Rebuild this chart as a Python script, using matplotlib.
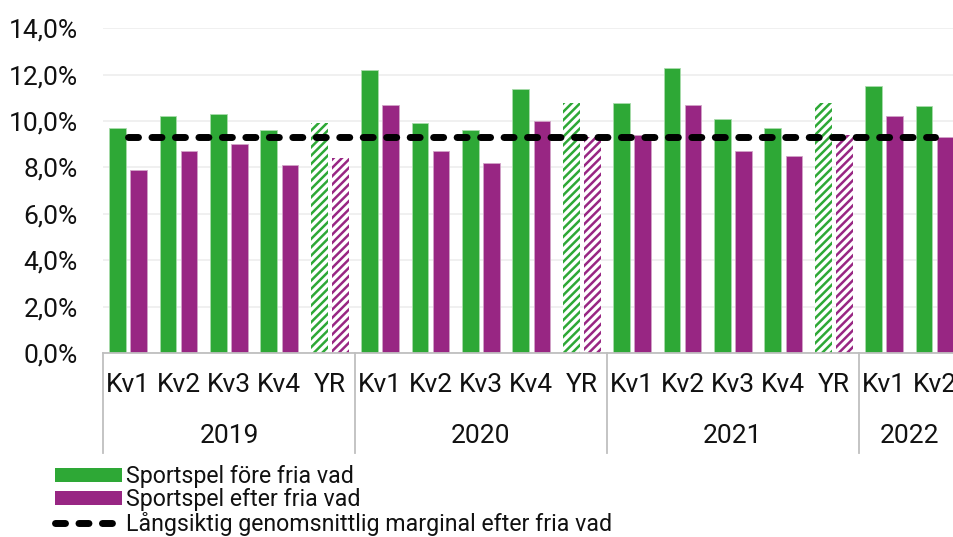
import matplotlib
matplotlib.use("Agg")
import matplotlib.pyplot as plt
import numpy as np
from matplotlib.patches import Patch
from matplotlib.lines import Line2D
from matplotlib.ticker import FuncFormatter

plt.rcParams['font.family'] = ['Roboto', 'DejaVu Sans']
plt.rcParams['hatch.linewidth'] = 1.8

# data (percent)
years = ['2019', '2020', '2021', '2022']
year_sizes = [5, 5, 5, 2]
quarters = ['Kv1', 'Kv2', 'Kv3', 'Kv4', 'YR',
            'Kv1', 'Kv2', 'Kv3', 'Kv4', 'YR',
            'Kv1', 'Kv2', 'Kv3', 'Kv4', 'YR',
            'Kv1', 'Kv2']
fore_fria_vad = [9.7, 10.2, 10.3, 9.6, 9.9,
                 12.2, 9.9, 9.6, 11.4, 10.8,
                 10.8, 12.3, 10.1, 9.7, 10.8,
                 11.5, 10.65]
efter_fria_vad = [7.9, 8.7, 9.0, 8.1, 8.4,
                  10.7, 8.7, 8.2, 10.0, 9.3,
                  9.4, 10.7, 8.7, 8.5, 9.4,
                  10.2, 9.3]
langsiktig_marginal = 9.3

GREEN = '#2ea836'
PURPLE = '#982683'
TEXT = '#111111'

x = np.arange(len(quarters))
width = 0.33
off = 0.21

fig = plt.figure(figsize=(9.54, 5.37), dpi=100)
ax = fig.add_axes([103 / 954, 184 / 537, 851 / 954, 324.7 / 537])

for i in x:
    if quarters[i] == 'YR':
        # full-year bars are drawn hatched
        ax.bar(i - off, fore_fria_vad[i], width, facecolor='white', edgecolor=GREEN,
               hatch='////', linewidth=0, zorder=2)
        ax.bar(i + off, efter_fria_vad[i], width, facecolor='white', edgecolor=PURPLE,
               hatch='////', linewidth=0, zorder=2)
    else:
        ax.bar(i - off, fore_fria_vad[i], width, color=GREEN, edgecolor='#a8dcab',
               linewidth=0.6, zorder=2)
        ax.bar(i + off, efter_fria_vad[i], width, color=PURPLE, edgecolor='#d2a3c8',
               linewidth=0.6, zorder=2)

# long-term average line
ax.plot([x[0], x[-1]], [langsiktig_marginal, langsiktig_marginal], color='black',
        lw=5, dashes=(1.44, 1.94), dash_capstyle='round', zorder=3)

ax.set_ylim(0, 14)
ax.set_xlim(-0.5, -0.5 + 851 / 50.4)
ax.set_yticks(np.arange(0, 15, 2))
ax.yaxis.set_major_formatter(FuncFormatter(lambda v, p: f'{v:.1f}%'.replace('.', ',')))
ax.tick_params(axis='y', length=0, pad=18, labelsize=19, labelcolor=TEXT)
ax.grid(axis='y', color='#efefef', lw=1.3, zorder=0)
ax.set_axisbelow(True)
for s in ['left', 'right', 'top']:
    ax.spines[s].set_visible(False)
ax.spines['bottom'].set_color('#bfbfbf')
ax.spines['bottom'].set_linewidth(1.3)

# category labels (two levels)
ax.set_xticks(x)
ax.set_xticklabels([])
ax.tick_params(axis='x', length=0)
for i, q in enumerate(quarters):
    ax.annotate(q, (i, 0), xycoords=('data', 'axes fraction'), xytext=(0, -23),
                textcoords='offset points', ha='center', va='center',
                fontsize=19, color=TEXT, annotation_clip=False)

start = -0.5
for yname, n in zip(years, year_sizes):
    ax.plot([start, start], [0, -100 / 324.7], transform=ax.get_xaxis_transform(),
            color='#bfbfbf', lw=1.3, clip_on=False)
    ax.annotate(yname, (start + n / 2, 0), xycoords=('data', 'axes fraction'),
                xytext=(0, -59.5), textcoords='offset points', ha='center', va='center',
                fontsize=19, color=TEXT, annotation_clip=False)
    start += n

handles = [Patch(facecolor=GREEN, edgecolor='none'),
           Patch(facecolor=PURPLE, edgecolor='none'),
           Line2D([], [], color='black', lw=5, dashes=(1.44, 1.94), dash_capstyle='round')]
labels = ['Sportspel före fria vad', 'Sportspel efter fria vad',
          'Långsiktig genomsnittlig marginal efter fria vad']
fig.legend(handles, labels, loc='upper left', bbox_to_anchor=(55 / 954, 1 - 465 / 537),
           frameon=False, fontsize=16.7, handlelength=2.88, handleheight=0.52,
           handletextpad=0.2, labelspacing=0.02, borderpad=0, borderaxespad=0,
           labelcolor=TEXT)

fig.savefig('out.png', dpi=100)
